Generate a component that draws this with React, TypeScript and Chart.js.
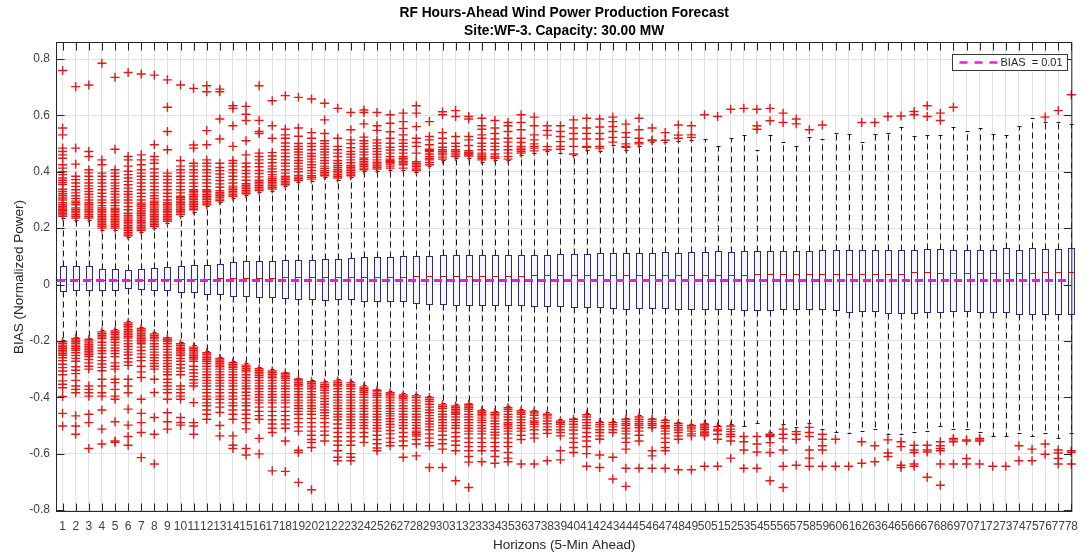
import { useEffect, useRef } from 'react';
import { Chart, registerables } from 'chart.js';

Chart.register(...registerables);

// Forecast horizons (5-minute steps ahead)
const horizons = [
  1, 2, 3, 4, 5, 6, 7, 8, 9, 10, 11, 12, 13, 14, 15, 16, 17, 18, 19, 20,
  21, 22, 23, 24, 25, 26, 27, 28, 29, 30, 31, 32, 33, 34, 35, 36, 37, 38, 39, 40,
  41, 42, 43, 44, 45, 46, 47, 48, 49, 50, 51, 52, 53, 54, 55, 56, 57, 58, 59, 60,
  61, 62, 63, 64, 65, 66, 67, 68, 69, 70, 71, 72, 73, 74, 75, 76, 77, 78,
];

// Box statistics per horizon (normalized power)
const q3 = [
  0.065, 0.065, 0.065, 0.055, 0.055, 0.051, 0.055, 0.059, 0.061, 0.065,
  0.07, 0.07, 0.074, 0.079, 0.083, 0.083, 0.085, 0.087, 0.087, 0.087,
  0.091, 0.091, 0.093, 0.097, 0.098, 0.098, 0.1, 0.1, 0.1, 0.104,
  0.104, 0.104, 0.104, 0.106, 0.106, 0.106, 0.106, 0.106, 0.109, 0.109,
  0.109, 0.112, 0.112, 0.112, 0.112, 0.112, 0.114, 0.112, 0.116, 0.116,
  0.118, 0.116, 0.118, 0.118, 0.118, 0.118, 0.118, 0.118, 0.122, 0.122,
  0.124, 0.122, 0.122, 0.122, 0.124, 0.122, 0.126, 0.126, 0.124, 0.124,
  0.124, 0.124, 0.13, 0.124, 0.13, 0.126, 0.126, 0.13,
];
const medians = [
  0.018, 0.018, 0.018, 0.017, 0.017, 0.016, 0.017, 0.018, 0.018, 0.019,
  0.02, 0.02, 0.022, 0.022, 0.024, 0.024, 0.024, 0.025, 0.025, 0.026,
  0.026, 0.026, 0.027, 0.027, 0.028, 0.028, 0.028, 0.029, 0.029, 0.03,
  0.03, 0.03, 0.03, 0.031, 0.031, 0.031, 0.032, 0.032, 0.032, 0.032,
  0.033, 0.035, 0.035, 0.035, 0.033, 0.033, 0.034, 0.034, 0.034, 0.035,
  0.035, 0.035, 0.035, 0.036, 0.036, 0.036, 0.036, 0.036, 0.037, 0.037,
  0.037, 0.037, 0.037, 0.038, 0.038, 0.044, 0.044, 0.04, 0.04, 0.04,
  0.04, 0.04, 0.042, 0.042, 0.042, 0.044, 0.044, 0.044,
];
const q1 = [
  -0.024, -0.02, -0.02, -0.018, -0.018, -0.012, -0.015, -0.018, -0.021, -0.025,
  -0.026, -0.032, -0.035, -0.039, -0.041, -0.045, -0.045, -0.048, -0.051, -0.053,
  -0.055, -0.053, -0.053, -0.057, -0.057, -0.06, -0.06, -0.065, -0.068, -0.068,
  -0.072, -0.072, -0.072, -0.072, -0.072, -0.074, -0.077, -0.077, -0.077, -0.079,
  -0.08, -0.08, -0.083, -0.086, -0.083, -0.083, -0.084, -0.086, -0.088, -0.086,
  -0.088, -0.088, -0.091, -0.092, -0.091, -0.088, -0.088, -0.088, -0.088, -0.092,
  -0.097, -0.094, -0.094, -0.1, -0.1, -0.1, -0.097, -0.098, -0.094, -0.094,
  -0.097, -0.097, -0.097, -0.104, -0.104, -0.106, -0.104, -0.106,
];
const whiskerHigh = [
  0.236, 0.23, 0.23, 0.194, 0.194, 0.167, 0.185, 0.2, 0.218, 0.242,
  0.259, 0.277, 0.291, 0.307, 0.316, 0.327, 0.333, 0.348, 0.363, 0.368,
  0.38, 0.372, 0.38, 0.401, 0.404, 0.407, 0.407, 0.398, 0.419, 0.44,
  0.449, 0.45, 0.436, 0.442, 0.44, 0.46, 0.468, 0.472, 0.468, 0.458,
  0.478, 0.474, 0.496, 0.478, 0.49, 0.504, 0.504, 0.51, 0.513, 0.516,
  0.492, 0.519, 0.531, 0.478, 0.531, 0.507, 0.49, 0.525, 0.516, 0.539,
  0.533, 0.507, 0.533, 0.539, 0.56, 0.527, 0.531, 0.531, 0.56, 0.546,
  0.555, 0.533, 0.531, 0.563, 0.59, 0.575, 0.578, 0.569,
];
const whiskerLow = [
  -0.197, -0.185, -0.189, -0.162, -0.159, -0.13, -0.15, -0.169, -0.185, -0.204,
  -0.216, -0.236, -0.256, -0.271, -0.28, -0.293, -0.301, -0.309, -0.33, -0.339,
  -0.343, -0.336, -0.343, -0.358, -0.369, -0.378, -0.386, -0.389, -0.395, -0.421,
  -0.425, -0.419, -0.442, -0.448, -0.431, -0.442, -0.444, -0.454, -0.478, -0.472,
  -0.457, -0.484, -0.484, -0.472, -0.464, -0.472, -0.476, -0.487, -0.496, -0.49,
  -0.498, -0.496, -0.502, -0.49, -0.523, -0.496, -0.507, -0.49, -0.511, -0.523,
  -0.527, -0.519, -0.511, -0.531, -0.531, -0.523, -0.519, -0.502, -0.513, -0.511,
  -0.523, -0.539, -0.539, -0.528, -0.537, -0.527, -0.543, -0.528,
];

// Outliers above the upper whisker, one list per horizon
const upperOutliers: number[][] = [
  [0.242, 0.247, 0.252, 0.257, 0.262, 0.267, 0.272, 0.277, 0.283, 0.29, 0.3, 0.307, 0.315, 0.322, 0.33, 0.338, 0.355, 0.362, 0.37, 0.378, 0.39, 0.4, 0.413, 0.425, 0.448, 0.46, 0.472, 0.484, 0.531, 0.555, 0.759],
  [0.236, 0.242, 0.248, 0.254, 0.26, 0.266, 0.272, 0.283, 0.29, 0.296, 0.305, 0.315, 0.325, 0.336, 0.348, 0.36, 0.372, 0.384, 0.427, 0.484, 0.702],
  [0.236, 0.242, 0.248, 0.254, 0.26, 0.266, 0.272, 0.278, 0.284, 0.29, 0.3, 0.31, 0.32, 0.33, 0.34, 0.35, 0.36, 0.372, 0.384, 0.396, 0.407, 0.454, 0.472, 0.708],
  [0.2, 0.206, 0.212, 0.218, 0.224, 0.23, 0.236, 0.242, 0.248, 0.254, 0.26, 0.266, 0.272, 0.28, 0.29, 0.3, 0.312, 0.324, 0.336, 0.348, 0.36, 0.372, 0.384, 0.395, 0.425, 0.442, 0.785],
  [0.2, 0.206, 0.212, 0.218, 0.224, 0.23, 0.236, 0.242, 0.248, 0.254, 0.26, 0.266, 0.271, 0.28, 0.29, 0.3, 0.31, 0.32, 0.33, 0.34, 0.35, 0.36, 0.372, 0.384, 0.395, 0.407, 0.48, 0.735],
  [0.173, 0.179, 0.185, 0.191, 0.197, 0.203, 0.209, 0.215, 0.221, 0.227, 0.233, 0.239, 0.245, 0.253, 0.265, 0.277, 0.289, 0.3, 0.31, 0.32, 0.33, 0.342, 0.354, 0.366, 0.378, 0.39, 0.402, 0.42, 0.442, 0.454, 0.752],
  [0.191, 0.197, 0.203, 0.209, 0.215, 0.221, 0.227, 0.233, 0.239, 0.245, 0.251, 0.257, 0.263, 0.27, 0.277, 0.283, 0.289, 0.3, 0.312, 0.324, 0.336, 0.348, 0.36, 0.372, 0.384, 0.395, 0.407, 0.425, 0.442, 0.46, 0.747],
  [0.206, 0.212, 0.218, 0.224, 0.23, 0.236, 0.242, 0.248, 0.254, 0.26, 0.266, 0.272, 0.278, 0.284, 0.29, 0.296, 0.305, 0.315, 0.325, 0.336, 0.348, 0.36, 0.372, 0.384, 0.396, 0.41, 0.43, 0.442, 0.454, 0.496, 0.743],
  [0.224, 0.23, 0.236, 0.242, 0.248, 0.254, 0.26, 0.266, 0.272, 0.278, 0.284, 0.29, 0.3, 0.312, 0.324, 0.336, 0.348, 0.36, 0.372, 0.384, 0.395, 0.478, 0.543, 0.629, 0.726],
  [0.248, 0.254, 0.26, 0.266, 0.272, 0.278, 0.284, 0.29, 0.296, 0.302, 0.308, 0.313, 0.325, 0.336, 0.348, 0.36, 0.372, 0.384, 0.396, 0.407, 0.42, 0.44, 0.708],
  [0.265, 0.271, 0.277, 0.283, 0.289, 0.295, 0.301, 0.307, 0.313, 0.319, 0.325, 0.331, 0.336, 0.348, 0.36, 0.372, 0.384, 0.396, 0.407, 0.42, 0.43, 0.484, 0.495, 0.696],
  [0.283, 0.289, 0.295, 0.301, 0.307, 0.313, 0.319, 0.325, 0.331, 0.336, 0.348, 0.36, 0.372, 0.384, 0.396, 0.407, 0.42, 0.43, 0.442, 0.496, 0.546, 0.684, 0.705],
  [0.297, 0.303, 0.309, 0.315, 0.321, 0.327, 0.333, 0.345, 0.357, 0.369, 0.38, 0.392, 0.404, 0.415, 0.43, 0.516, 0.587, 0.684, 0.693],
  [0.313, 0.319, 0.325, 0.331, 0.337, 0.343, 0.349, 0.36, 0.372, 0.384, 0.396, 0.407, 0.42, 0.43, 0.44, 0.49, 0.563, 0.625, 0.634],
  [0.322, 0.328, 0.334, 0.34, 0.346, 0.352, 0.358, 0.37, 0.382, 0.394, 0.405, 0.418, 0.43, 0.46, 0.51, 0.582, 0.604, 0.632],
  [0.333, 0.339, 0.345, 0.351, 0.357, 0.363, 0.37, 0.382, 0.394, 0.405, 0.418, 0.43, 0.442, 0.454, 0.466, 0.536, 0.543, 0.582, 0.705],
  [0.339, 0.345, 0.351, 0.357, 0.363, 0.369, 0.375, 0.382, 0.39, 0.4, 0.41, 0.42, 0.432, 0.444, 0.456, 0.468, 0.519, 0.563, 0.652],
  [0.354, 0.36, 0.366, 0.372, 0.378, 0.384, 0.395, 0.407, 0.42, 0.43, 0.442, 0.454, 0.466, 0.478, 0.49, 0.502, 0.519, 0.531, 0.551, 0.67],
  [0.369, 0.375, 0.381, 0.387, 0.4, 0.41, 0.42, 0.43, 0.44, 0.45, 0.46, 0.47, 0.48, 0.49, 0.5, 0.526, 0.555, 0.664],
  [0.374, 0.38, 0.386, 0.395, 0.405, 0.415, 0.425, 0.435, 0.445, 0.455, 0.465, 0.478, 0.49, 0.5, 0.519, 0.539, 0.658],
  [0.386, 0.392, 0.398, 0.404, 0.412, 0.42, 0.43, 0.44, 0.45, 0.46, 0.47, 0.48, 0.49, 0.5, 0.51, 0.536, 0.584, 0.643],
  [0.378, 0.384, 0.39, 0.396, 0.402, 0.408, 0.415, 0.422, 0.43, 0.44, 0.454, 0.466, 0.478, 0.49, 0.519, 0.625],
  [0.386, 0.392, 0.398, 0.404, 0.41, 0.416, 0.422, 0.432, 0.442, 0.452, 0.462, 0.472, 0.485, 0.5, 0.513, 0.549, 0.61],
  [0.407, 0.413, 0.419, 0.425, 0.431, 0.437, 0.443, 0.449, 0.46, 0.47, 0.48, 0.49, 0.5, 0.51, 0.523, 0.57, 0.61, 0.619],
  [0.41, 0.416, 0.422, 0.428, 0.434, 0.442, 0.452, 0.462, 0.472, 0.482, 0.492, 0.502, 0.513, 0.547, 0.563, 0.61],
  [0.413, 0.42, 0.427, 0.432, 0.436, 0.44, 0.445, 0.454, 0.466, 0.477, 0.487, 0.501, 0.519, 0.542, 0.572, 0.602],
  [0.413, 0.425, 0.431, 0.436, 0.442, 0.448, 0.454, 0.466, 0.478, 0.49, 0.501, 0.513, 0.531, 0.554, 0.578, 0.608],
  [0.404, 0.41, 0.418, 0.424, 0.43, 0.436, 0.466, 0.49, 0.504, 0.519, 0.56, 0.608, 0.634],
  [0.425, 0.433, 0.442, 0.447, 0.454, 0.463, 0.472, 0.476, 0.48, 0.496, 0.513, 0.525, 0.578],
  [0.445, 0.452, 0.46, 0.466, 0.472, 0.478, 0.487, 0.501, 0.519, 0.539, 0.602, 0.613],
  [0.454, 0.46, 0.466, 0.472, 0.478, 0.49, 0.501, 0.525, 0.596, 0.617],
  [0.456, 0.46, 0.463, 0.466, 0.469, 0.475, 0.493, 0.513, 0.525, 0.587, 0.596],
  [0.442, 0.448, 0.454, 0.46, 0.466, 0.478, 0.49, 0.501, 0.519, 0.531, 0.551, 0.563, 0.59],
  [0.448, 0.454, 0.463, 0.478, 0.49, 0.501, 0.516, 0.536, 0.555, 0.582],
  [0.445, 0.454, 0.466, 0.478, 0.49, 0.505, 0.519, 0.543, 0.563, 0.575],
  [0.466, 0.472, 0.478, 0.484, 0.49, 0.504, 0.519, 0.549, 0.575, 0.602],
  [0.474, 0.484, 0.49, 0.499, 0.513, 0.531, 0.563, 0.594],
  [0.478, 0.489, 0.53, 0.547, 0.563],
  [0.48, 0.49, 0.507, 0.525, 0.543, 0.563],
  [0.463, 0.49, 0.516, 0.536, 0.555, 0.584],
  [0.487, 0.49, 0.516, 0.536, 0.555, 0.59],
  [0.484, 0.49, 0.516, 0.536, 0.559, 0.587],
  [0.505, 0.522, 0.543, 0.56, 0.578, 0.594],
  [0.487, 0.49, 0.499, 0.522, 0.539, 0.569],
  [0.499, 0.504, 0.519, 0.549, 0.59],
  [0.51, 0.513, 0.555],
  [0.512, 0.539],
  [0.519, 0.53, 0.566],
  [0.522, 0.531, 0.563],
  [0.602],
  [0.596],
  [0.622],
  [0.625],
  [0.551, 0.563, 0.622],
  [0.581, 0.625],
  [0.575, 0.608],
  [0.57, 0.587],
  [0.549],
  [0.566],
  [],
  [],
  [0.575],
  [0.575],
  [0.596],
  [0.598],
  [0.602, 0.614],
  [0.596, 0.634],
  [0.582, 0.608],
  [0.629],
  [],
  [],
  [],
  [],
  [],
  [],
  [0.594],
  [0.617],
  [0.673],
];

// Outliers below the lower whisker, one list per horizon
const lowerOutliers: number[][] = [
  [-0.203, -0.209, -0.215, -0.221, -0.227, -0.233, -0.239, -0.245, -0.251, -0.26, -0.27, -0.283, -0.295, -0.307, -0.32, -0.342, -0.354, -0.366, -0.397, -0.457, -0.502],
  [-0.191, -0.197, -0.203, -0.209, -0.215, -0.221, -0.227, -0.233, -0.242, -0.252, -0.262, -0.272, -0.292, -0.304, -0.316, -0.34, -0.36, -0.372, -0.384, -0.466, -0.502, -0.531],
  [-0.195, -0.201, -0.207, -0.213, -0.219, -0.225, -0.231, -0.237, -0.243, -0.249, -0.256, -0.266, -0.278, -0.29, -0.3, -0.36, -0.372, -0.384, -0.396, -0.46, -0.49, -0.582],
  [-0.168, -0.174, -0.18, -0.186, -0.192, -0.205, -0.215, -0.225, -0.235, -0.245, -0.258, -0.27, -0.282, -0.294, -0.306, -0.336, -0.36, -0.384, -0.396, -0.445, -0.513, -0.566],
  [-0.165, -0.171, -0.177, -0.183, -0.189, -0.195, -0.205, -0.215, -0.225, -0.235, -0.245, -0.256, -0.278, -0.29, -0.3, -0.336, -0.348, -0.372, -0.396, -0.407, -0.487, -0.555, -0.56],
  [-0.136, -0.142, -0.148, -0.154, -0.16, -0.166, -0.172, -0.178, -0.184, -0.19, -0.2, -0.21, -0.22, -0.23, -0.24, -0.25, -0.262, -0.275, -0.287, -0.336, -0.36, -0.384, -0.442, -0.499, -0.539, -0.57],
  [-0.156, -0.162, -0.168, -0.174, -0.18, -0.186, -0.192, -0.198, -0.204, -0.21, -0.222, -0.234, -0.246, -0.258, -0.27, -0.29, -0.31, -0.33, -0.407, -0.457, -0.49, -0.525, -0.614],
  [-0.175, -0.181, -0.187, -0.193, -0.2, -0.21, -0.22, -0.23, -0.24, -0.25, -0.26, -0.27, -0.28, -0.29, -0.3, -0.336, -0.383, -0.472, -0.531, -0.637],
  [-0.19, -0.196, -0.202, -0.21, -0.22, -0.23, -0.24, -0.25, -0.26, -0.27, -0.28, -0.29, -0.3, -0.31, -0.32, -0.336, -0.348, -0.36, -0.372, -0.384, -0.407, -0.455, -0.487, -0.513],
  [-0.21, -0.216, -0.222, -0.228, -0.234, -0.24, -0.246, -0.252, -0.262, -0.272, -0.284, -0.296, -0.308, -0.32, -0.36, -0.372, -0.384, -0.396, -0.407, -0.472, -0.49, -0.499],
  [-0.222, -0.228, -0.234, -0.24, -0.246, -0.252, -0.258, -0.264, -0.272, -0.29, -0.302, -0.314, -0.326, -0.338, -0.35, -0.36, -0.419, -0.49, -0.502, -0.531],
  [-0.242, -0.248, -0.254, -0.26, -0.266, -0.272, -0.28, -0.29, -0.3, -0.31, -0.32, -0.33, -0.34, -0.35, -0.36, -0.372, -0.384, -0.396, -0.407, -0.42, -0.43, -0.445, -0.46, -0.478],
  [-0.262, -0.268, -0.274, -0.28, -0.286, -0.292, -0.3, -0.31, -0.32, -0.33, -0.34, -0.35, -0.36, -0.372, -0.384, -0.396, -0.407, -0.42, -0.435, -0.454, -0.5, -0.537],
  [-0.277, -0.283, -0.289, -0.295, -0.301, -0.31, -0.32, -0.33, -0.34, -0.35, -0.36, -0.372, -0.384, -0.396, -0.407, -0.42, -0.43, -0.445, -0.46, -0.478, -0.537, -0.57, -0.582],
  [-0.286, -0.292, -0.298, -0.304, -0.31, -0.32, -0.33, -0.34, -0.35, -0.36, -0.37, -0.382, -0.394, -0.406, -0.42, -0.43, -0.445, -0.46, -0.475, -0.49, -0.512, -0.582, -0.605],
  [-0.299, -0.305, -0.311, -0.317, -0.323, -0.33, -0.34, -0.35, -0.36, -0.37, -0.38, -0.39, -0.4, -0.41, -0.42, -0.435, -0.45, -0.465, -0.478, -0.546, -0.601],
  [-0.307, -0.313, -0.319, -0.325, -0.331, -0.34, -0.35, -0.36, -0.37, -0.38, -0.39, -0.4, -0.41, -0.42, -0.435, -0.45, -0.465, -0.48, -0.495, -0.51, -0.525, -0.661],
  [-0.315, -0.321, -0.327, -0.333, -0.34, -0.35, -0.36, -0.37, -0.38, -0.39, -0.4, -0.41, -0.42, -0.435, -0.45, -0.465, -0.48, -0.495, -0.51, -0.555, -0.663],
  [-0.336, -0.342, -0.348, -0.354, -0.36, -0.37, -0.38, -0.39, -0.4, -0.41, -0.42, -0.43, -0.44, -0.45, -0.46, -0.475, -0.49, -0.505, -0.52, -0.588, -0.596, -0.702],
  [-0.345, -0.351, -0.357, -0.363, -0.37, -0.38, -0.39, -0.4, -0.41, -0.42, -0.43, -0.44, -0.45, -0.46, -0.475, -0.49, -0.505, -0.52, -0.535, -0.55, -0.56, -0.578, -0.728],
  [-0.349, -0.355, -0.361, -0.367, -0.375, -0.385, -0.395, -0.405, -0.415, -0.425, -0.435, -0.445, -0.455, -0.465, -0.475, -0.49, -0.505, -0.52, -0.535, -0.555],
  [-0.342, -0.348, -0.354, -0.36, -0.37, -0.38, -0.39, -0.4, -0.41, -0.42, -0.43, -0.44, -0.45, -0.46, -0.47, -0.48, -0.495, -0.51, -0.525, -0.54, -0.555, -0.57, -0.59, -0.613, -0.625],
  [-0.349, -0.355, -0.361, -0.37, -0.38, -0.39, -0.4, -0.41, -0.42, -0.43, -0.44, -0.45, -0.46, -0.47, -0.48, -0.49, -0.5, -0.51, -0.525, -0.54, -0.555, -0.57, -0.6, -0.613, -0.625],
  [-0.364, -0.37, -0.376, -0.382, -0.39, -0.4, -0.41, -0.42, -0.43, -0.44, -0.45, -0.46, -0.47, -0.48, -0.49, -0.5, -0.51, -0.525, -0.54, -0.56],
  [-0.375, -0.381, -0.387, -0.393, -0.4, -0.41, -0.42, -0.43, -0.44, -0.45, -0.46, -0.47, -0.48, -0.49, -0.5, -0.51, -0.52, -0.535, -0.55, -0.565, -0.58, -0.59],
  [-0.384, -0.39, -0.396, -0.402, -0.41, -0.42, -0.43, -0.44, -0.45, -0.458, -0.466, -0.476, -0.486, -0.496, -0.506, -0.518, -0.53, -0.545, -0.56, -0.572],
  [-0.392, -0.398, -0.404, -0.41, -0.42, -0.43, -0.44, -0.45, -0.46, -0.47, -0.48, -0.49, -0.5, -0.51, -0.525, -0.54, -0.555, -0.572, -0.613],
  [-0.395, -0.401, -0.41, -0.42, -0.43, -0.44, -0.45, -0.46, -0.47, -0.48, -0.49, -0.5, -0.51, -0.52, -0.526, -0.532, -0.538, -0.55, -0.566, -0.608],
  [-0.401, -0.408, -0.415, -0.425, -0.435, -0.445, -0.455, -0.465, -0.475, -0.485, -0.495, -0.505, -0.515, -0.53, -0.545, -0.56, -0.572, -0.649],
  [-0.427, -0.433, -0.44, -0.45, -0.46, -0.47, -0.48, -0.49, -0.5, -0.51, -0.52, -0.535, -0.55, -0.565, -0.584, -0.649],
  [-0.431, -0.437, -0.443, -0.449, -0.455, -0.46, -0.47, -0.48, -0.49, -0.5, -0.51, -0.525, -0.54, -0.555, -0.57, -0.59, -0.696],
  [-0.425, -0.431, -0.437, -0.443, -0.45, -0.46, -0.47, -0.48, -0.49, -0.5, -0.51, -0.52, -0.53, -0.545, -0.56, -0.575, -0.59, -0.61, -0.63, -0.72],
  [-0.448, -0.454, -0.46, -0.466, -0.474, -0.482, -0.49, -0.5, -0.51, -0.52, -0.53, -0.545, -0.56, -0.575, -0.59, -0.629],
  [-0.454, -0.46, -0.466, -0.474, -0.484, -0.494, -0.504, -0.514, -0.524, -0.534, -0.545, -0.56, -0.575, -0.59, -0.61, -0.634],
  [-0.437, -0.443, -0.45, -0.46, -0.47, -0.48, -0.49, -0.496, -0.502, -0.51, -0.52, -0.53, -0.545, -0.56, -0.575, -0.596, -0.616, -0.629],
  [-0.448, -0.454, -0.46, -0.47, -0.48, -0.49, -0.5, -0.51, -0.52, -0.535, -0.55, -0.637],
  [-0.45, -0.456, -0.464, -0.474, -0.484, -0.49, -0.496, -0.505, -0.515, -0.53, -0.545, -0.637],
  [-0.46, -0.466, -0.474, -0.484, -0.494, -0.505, -0.515, -0.528, -0.625],
  [-0.484, -0.49, -0.496, -0.505, -0.515, -0.525, -0.537, -0.59, -0.622],
  [-0.478, -0.486, -0.496, -0.506, -0.516, -0.53, -0.545, -0.56, -0.578, -0.596],
  [-0.462, -0.47, -0.48, -0.49, -0.5, -0.51, -0.525, -0.54, -0.555, -0.575, -0.6, -0.645],
  [-0.49, -0.497, -0.505, -0.515, -0.525, -0.537, -0.549, -0.605, -0.649],
  [-0.49, -0.497, -0.505, -0.515, -0.525, -0.613, -0.69],
  [-0.478, -0.486, -0.494, -0.5, -0.51, -0.52, -0.53, -0.545, -0.56, -0.584, -0.652, -0.716],
  [-0.47, -0.478, -0.486, -0.494, -0.5, -0.508, -0.52, -0.535, -0.555, -0.652],
  [-0.478, -0.486, -0.494, -0.5, -0.508, -0.59, -0.608, -0.652],
  [-0.482, -0.49, -0.5, -0.503, -0.51, -0.52, -0.53, -0.545, -0.56, -0.578, -0.59, -0.652],
  [-0.493, -0.5, -0.508, -0.516, -0.525, -0.537, -0.549, -0.657],
  [-0.5, -0.506, -0.512, -0.52, -0.53, -0.537, -0.657],
  [-0.496, -0.502, -0.508, -0.514, -0.52, -0.526, -0.532, -0.537, -0.645],
  [-0.504, -0.513, -0.519, -0.531, -0.549, -0.645],
  [-0.502, -0.513, -0.522, -0.531, -0.539, -0.555, -0.616],
  [-0.539, -0.558, -0.587, -0.652],
  [-0.539, -0.566, -0.594, -0.652],
  [-0.531, -0.535, -0.539, -0.561, -0.596, -0.696],
  [-0.513, -0.531, -0.546, -0.587, -0.645, -0.72],
  [-0.522, -0.531, -0.549, -0.641],
  [-0.507, -0.525, -0.539, -0.587, -0.616, -0.645],
  [-0.531, -0.549, -0.572, -0.587, -0.645],
  [-0.549, -0.645],
  [-0.645],
  [-0.558, -0.634],
  [-0.572, -0.629],
  [-0.551, -0.598, -0.61],
  [-0.558, -0.575, -0.641, -0.649],
  [-0.57, -0.587, -0.596, -0.637, -0.645],
  [-0.57, -0.587, -0.594, -0.684],
  [-0.558, -0.572, -0.582, -0.59, -0.637, -0.712],
  [-0.546, -0.551, -0.558, -0.637],
  [-0.551, -0.555, -0.617, -0.637],
  [-0.546, -0.551, -0.555, -0.637],
  [-0.645],
  [-0.645],
  [-0.572, -0.625],
  [-0.584, -0.625],
  [-0.566, -0.602],
  [-0.587, -0.598, -0.617, -0.637],
  [-0.59, -0.596, -0.637],
];

// Mean bias over all horizons
const biasValue = 0.014;

const yTickValues = [-0.8, -0.6, -0.4, -0.2, 0, 0.2, 0.4, 0.6, 0.8];

const titleLines = ['RF Hours-Ahead Wind Power Production Forecast', 'Site:WF-3. Capacity: 30.00 MW'];
const xTitle = 'Horizons (5-Min Ahead)';
const yTitle = 'BIAS (Normalized Power)';

const X_MIN = 0.57;
const X_MAX = 78;
const Y_MIN = -0.8035;
const Y_MAX = 0.8568;

const FONT = '"Liberation Sans", Arial, Helvetica, sans-serif';
const AXIS_COLOR = '#262626';
const MAGENTA = '#e41ee4';
const OUTLIER_RED = '#e61717';

const crisp = (v: number) => Math.round(v) + 0.5;

// Boxes, whiskers and medians, drawn under the outlier markers
const boxPlotPlugin = {
  id: 'boxPlot',
  beforeDatasetsDraw(chart: any) {
    const { ctx } = chart;
    const xs = chart.scales.x;
    const ys = chart.scales.y;
    ctx.save();
    for (let i = 0; i < horizons.length; i++) {
      const cx = crisp(xs.getPixelForValue(horizons[i]));
      const yTop = crisp(ys.getPixelForValue(q3[i]));
      const yBot = crisp(ys.getPixelForValue(q1[i]));
      const yMed = crisp(ys.getPixelForValue(medians[i]));
      const yHi = crisp(ys.getPixelForValue(whiskerHigh[i]));
      const yLo = crisp(ys.getPixelForValue(whiskerLow[i]));

      // dashed whiskers
      ctx.strokeStyle = '#1a1a1a';
      ctx.lineWidth = 1;
      ctx.setLineDash([6, 4]);
      ctx.beginPath();
      ctx.moveTo(cx, yTop);
      ctx.lineTo(cx, yHi);
      ctx.moveTo(cx, yBot);
      ctx.lineTo(cx, yLo);
      ctx.stroke();
      ctx.setLineDash([]);

      // whisker caps
      ctx.beginPath();
      ctx.moveTo(cx - 2, yHi);
      ctx.lineTo(cx + 2, yHi);
      ctx.moveTo(cx - 2, yLo);
      ctx.lineTo(cx + 2, yLo);
      ctx.stroke();

      // box
      ctx.fillStyle = '#f6f6fc';
      ctx.fillRect(cx - 3, yTop, 6, yBot - yTop);
      ctx.strokeStyle = 'rgb(42,42,128)';
      ctx.strokeRect(cx - 3, yTop, 6, yBot - yTop);

      // median
      ctx.strokeStyle = '#e01010';
      ctx.beginPath();
      ctx.moveTo(cx - 3, yMed);
      ctx.lineTo(cx + 3, yMed);
      ctx.stroke();
    }
    ctx.restore();
  },
};

// Axes frame with inward ticks, legend and titles
const framePlugin = {
  id: 'frameAndLabels',
  afterDatasetsDraw(chart: any) {
    const { ctx, chartArea } = chart;
    const xs = chart.scales.x;
    const ys = chart.scales.y;
    const left = chartArea.left - 0.5;
    const right = chartArea.right + 0.5;
    const top = chartArea.top - 0.5;
    const bottom = chartArea.bottom + 0.5;
    const tickLen = 8;
    ctx.save();
    ctx.strokeStyle = AXIS_COLOR;
    ctx.lineWidth = 1;
    ctx.strokeRect(left, top, right - left, bottom - top);
    ctx.beginPath();
    for (const h of horizons) {
      const px = crisp(xs.getPixelForValue(h));
      ctx.moveTo(px, bottom);
      ctx.lineTo(px, bottom - tickLen);
      ctx.moveTo(px, top);
      ctx.lineTo(px, top + tickLen);
    }
    for (const v of yTickValues) {
      const py = crisp(ys.getPixelForValue(v));
      ctx.moveTo(left, py);
      ctx.lineTo(left + tickLen, py);
      ctx.moveTo(right, py);
      ctx.lineTo(right - tickLen, py);
    }
    ctx.stroke();

    // legend box
    const lx = 952.5;
    const ly = 54.5;
    const lw = 115;
    const lh = 16;
    ctx.fillStyle = '#ffffff';
    ctx.fillRect(lx, ly, lw, lh);
    ctx.strokeStyle = '#3a3a3a';
    ctx.strokeRect(lx, ly, lw, lh);
    const ds = chart.data.datasets[0];
    ctx.strokeStyle = ds.borderColor;
    ctx.lineWidth = 2.5;
    ctx.setLineDash([8, 7]);
    ctx.beginPath();
    ctx.moveTo(lx + 7, ly + lh / 2);
    ctx.lineTo(lx + 45, ly + lh / 2);
    ctx.stroke();
    ctx.setLineDash([]);
    ctx.fillStyle = AXIS_COLOR;
    ctx.font = `11px ${FONT}`;
    ctx.textAlign = 'left';
    ctx.textBaseline = 'middle';
    ctx.fillText(ds.label, lx + 48, ly + lh / 2 + 0.5);

    // titles
    const midX = (chartArea.left + chartArea.right) / 2;
    ctx.fillStyle = '#000000';
    ctx.font = `bold 13.8px ${FONT}`;
    ctx.textAlign = 'center';
    ctx.fillText(titleLines[0], midX, 13);
    ctx.fillText(titleLines[1], midX, 31.5);

    ctx.fillStyle = AXIS_COLOR;
    ctx.font = `13.5px ${FONT}`;
    ctx.fillText(xTitle, midX, 545);

    ctx.translate(19, (chartArea.top + chartArea.bottom) / 2);
    ctx.rotate(-Math.PI / 2);
    ctx.fillText(yTitle, 0, 0);
    ctx.restore();
  },
};

export default function App() {
  const canvasRef = useRef<HTMLCanvasElement | null>(null);

  useEffect(() => {
    const canvas = canvasRef.current;
    if (!canvas) return;

    const outlierPoints = horizons.flatMap((h, i) =>
      [...upperOutliers[i], ...lowerOutliers[i]].map((v) => ({ x: h, y: v }))
    );

    const chart = new Chart(canvas, {
      type: 'scatter',
      data: {
        datasets: [
          {
            label: `BIAS  = ${biasValue.toFixed(2)}`,
            data: [
              { x: X_MIN, y: biasValue },
              { x: X_MAX, y: biasValue },
            ],
            showLine: true,
            borderColor: MAGENTA,
            borderWidth: 3,
            borderDash: [8, 5],
            pointRadius: 0,
            order: 0,
          } as any,
          {
            label: 'Outliers',
            data: outlierPoints,
            pointStyle: 'cross',
            pointRadius: 4.5,
            borderColor: OUTLIER_RED,
            backgroundColor: OUTLIER_RED,
            borderWidth: 1.4,
            clip: false,
            order: 1,
          } as any,
        ],
      },
      options: {
        responsive: false,
        animation: false,
        events: [],
        layout: { padding: { left: 0, right: 8, top: 43, bottom: 0 } },
        plugins: {
          legend: { display: false },
          tooltip: { enabled: false },
          title: { display: false },
        },
        scales: {
          x: {
            type: 'linear',
            min: X_MIN,
            max: X_MAX,
            afterBuildTicks: (axis: any) => {
              axis.ticks = horizons.map((v) => ({ value: v }));
            },
            afterFit: (axis: any) => {
              axis.height = 43;
            },
            ticks: {
              autoSkip: false,
              maxRotation: 0,
              minRotation: 0,
              padding: 8,
              color: '#404040',
              font: { family: FONT, size: 12 },
              callback: (v: any) => String(v),
            },
            grid: { color: '#e2e2e2', lineWidth: 1, drawTicks: false },
            border: { display: false },
          },
          y: {
            type: 'linear',
            min: Y_MIN,
            max: Y_MAX,
            afterBuildTicks: (axis: any) => {
              axis.ticks = yTickValues.map((v) => ({ value: v }));
            },
            afterFit: (axis: any) => {
              axis.width = 57;
            },
            ticks: {
              padding: 7,
              color: '#404040',
              font: { family: FONT, size: 12 },
              callback: (v: any) => (Number(v) === 0 ? '0' : Number(v).toFixed(1)),
            },
            grid: { color: '#e2e2e2', lineWidth: 1, drawTicks: false },
            border: { display: false },
          },
        },
      } as any,
      plugins: [boxPlotPlugin, framePlugin],
    });

    return () => chart.destroy();
  }, []);

  return (
    <div style={{ position: 'fixed', left: 0, top: 0, width: 1086, height: 554, background: '#ffffff' }}>
      <canvas ref={canvasRef} width={1086} height={554} style={{ display: 'block' }} />
    </div>
  );
}
